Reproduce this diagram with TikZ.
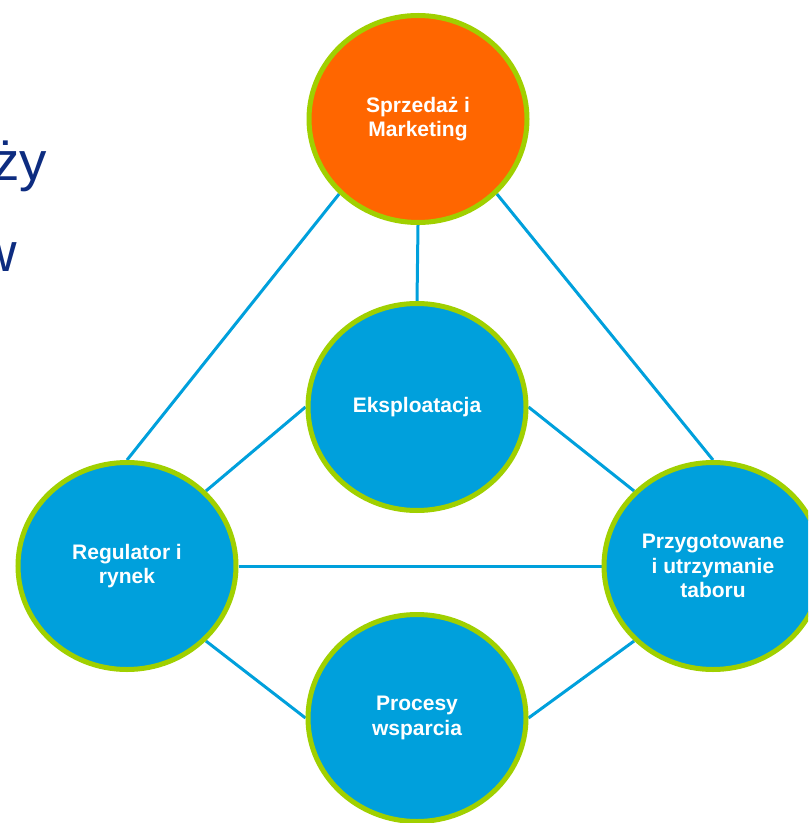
\documentclass[tikz,border=0pt]{standalone}
\usepackage{fontspec}
\setmainfont{Liberation Sans}
\usetikzlibrary{shapes.geometric,backgrounds}
\definecolor{areablue}{HTML}{00A0DC}
\definecolor{areaorange}{HTML}{FF6600}
\definecolor{rimgreen}{HTML}{A0D000}
\definecolor{titleblue}{HTML}{0D2C80}

\begin{document}
\begin{tikzpicture}[x=0.75pt,y=-0.75pt,
  area/.style={ellipse,draw=rimgreen,line width=3.75pt,fill=areablue,
    minimum width=163.5pt,minimum height=155.25pt,text=white,align=center,
    font=\fontsize{15.75}{18.4}\selectfont\bfseries},
  link/.style={draw=areablue,line width=2.25pt},
  cut/.style={anchor=base east,inner sep=0pt,text=titleblue,
    font=\fontsize{41}{49}\selectfont}]

\clip (0,0) rectangle (808,823);

\node[cut] (zy) at (47,181) {ży};
\node[cut] (w) at (17,272) {w};

\node[area,fill=areaorange] (sales) at (418,119) {Sprzedaż i\\Marketing};
\node[area] (ops) at (417,407) {Eksploatacja};
\node[area] (reg) at (127,566) {Regulator i\\rynek};
\node[area] (fleet) at (713,566) {Przygotowane\\i utrzymanie\\taboru};
\node[area] (support) at (417,718) {Procesy\\wsparcia};

\begin{scope}[on background layer]
\foreach \a/\b in {sales.south west/reg.north, sales.south/ops.north,
  sales.south east/fleet.north, ops.west/reg.north east,
  ops.east/fleet.north west, reg.east/fleet.west,
  reg.south east/support.west, support.east/fleet.south west}
{\draw[link] (\a) -- (\b);}
\end{scope}

\end{tikzpicture}
\end{document}
